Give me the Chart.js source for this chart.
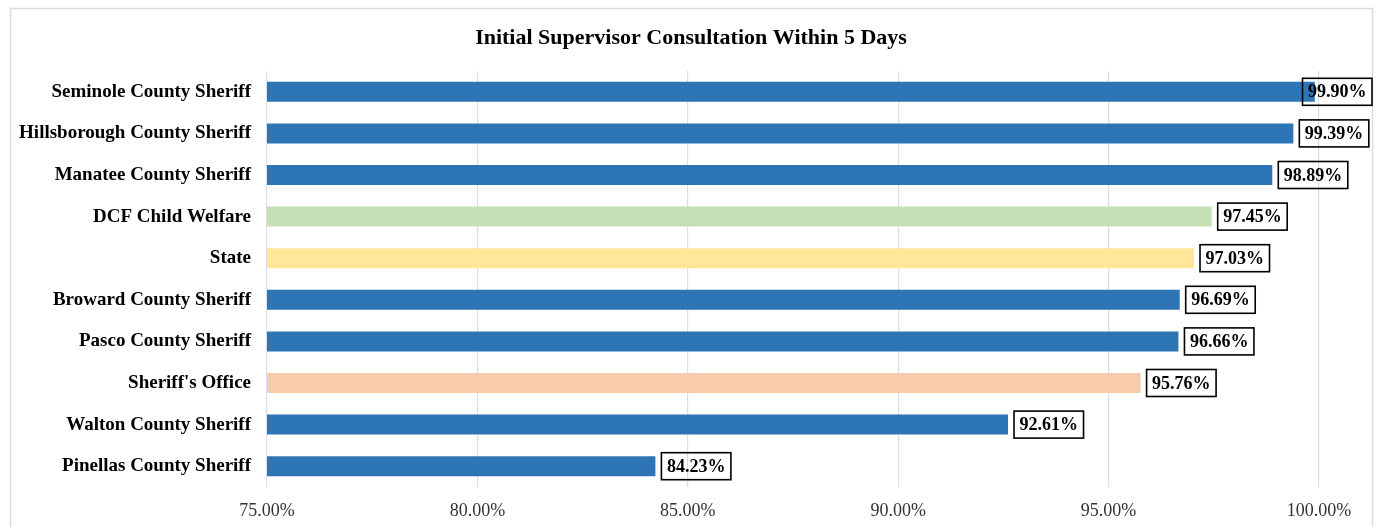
<!DOCTYPE html>
<html>
<head>
<meta charset="utf-8">
<script src="https://cdn.jsdelivr.net/npm/chart.js@4/dist/chart.umd.min.js"></script>
<style>
html,body{margin:0;padding:0;background:#fff;}
#wrap{width:1377px;height:527px;position:relative;}
</style>
</head>
<body>
<div id="wrap"><canvas id="c" width="1377" height="527"></canvas></div>
<script>
const categories = [
  "Seminole County Sheriff",
  "Hillsborough County Sheriff",
  "Manatee County Sheriff",
  "DCF Child Welfare",
  "State",
  "Broward County Sheriff",
  "Pasco County Sheriff",
  "Sheriff's Office",
  "Walton County Sheriff",
  "Pinellas County Sheriff"
];
const values = [99.90, 99.39, 98.89, 97.45, 97.03, 96.69, 96.66, 95.76, 92.61, 84.23];
const barColors = ["#2E75B6","#2E75B6","#2E75B6","#C5E0B4","#FFE699","#2E75B6","#2E75B6","#F8CBAD","#2E75B6","#2E75B6"];
const tickValues = [75, 80, 85, 90, 95, 100];
const titleText = "Initial Supervisor Consultation Within 5 Days";

const FONT = "'Liberation Serif', 'Times New Roman', serif";

const frame = {
  id: 'frame',
  beforeDraw(chart) {
    const ctx = chart.ctx;
    ctx.save();
    ctx.fillStyle = '#fff';
    ctx.fillRect(0, 0, chart.width, chart.height);
    ctx.strokeStyle = '#D9DCE4';
    ctx.lineWidth = 1.5;
    ctx.strokeRect(10.5, 8.5, 1362, 540);
    ctx.font = "bold 22px " + FONT;
    ctx.fillStyle = '#000';
    ctx.textAlign = 'center';
    ctx.textBaseline = 'middle';
    ctx.fillText(titleText, 691, 38);
    ctx.restore();
  }
};

const dataLabels = {
  id: 'dataLabels',
  afterDatasetsDraw(chart) {
    const ctx = chart.ctx;
    const meta = chart.getDatasetMeta(0);
    ctx.save();
    ctx.font = "bold 18px " + FONT;
    ctx.textBaseline = 'middle';
    ctx.textAlign = 'left';
    meta.data.forEach((bar, i) => {
      const txt = values[i].toFixed(2) + '%';
      const tw = ctx.measureText(txt).width;
      const w = tw + 11;
      const h = 27;
      let left = bar.x + 6;
      if (left + w > 1372) left = 1372 - w;
      const top = bar.y - h / 2;
      ctx.strokeStyle = '#000';
      ctx.lineWidth = 1.6;
      ctx.strokeRect(left, top, w, h);
      ctx.fillStyle = '#000';
      ctx.fillText(txt, left + 5.5, bar.y + 1);
    });
    ctx.restore();
  }
};

new Chart(document.getElementById('c'), {
  type: 'bar',
  data: {
    labels: categories,
    datasets: [{
      data: values,
      backgroundColor: barColors,
      borderWidth: 0,
      barPercentage: 0.96,
      categoryPercentage: 0.5
    }]
  },
  plugins: [frame, dataLabels],
  options: {
    indexAxis: 'y',
    responsive: false,
    animation: false,
    devicePixelRatio: 1,
    layout: { padding: { left: 0, right: 58, top: 71, bottom: 0 } },
    plugins: {
      legend: { display: false },
      tooltip: { enabled: false },
      title: { display: false }
    },
    scales: {
      x: {
        type: 'linear',
        min: 75,
        max: 100,
        afterBuildTicks(scale) { scale.ticks = tickValues.map(v => ({ value: v })); },
        afterFit(scale) { scale.height = 40; },
        grid: { color: '#D9DEE8', lineWidth: 1.2, drawTicks: false },
        border: { display: false },
        ticks: {
          padding: 13,
          color: '#333',
          font: { family: FONT, size: 18 },
          callback: v => Number(v).toFixed(2) + '%'
        }
      },
      y: {
        afterFit(scale) { scale.width = 267; },
        grid: { display: false, drawTicks: false },
        border: { display: false },
        ticks: {
          padding: 16,
          color: '#000',
          font: { family: FONT, size: 19, weight: 'bold' }
        }
      }
    }
  }
});
</script>
</body>
</html>
